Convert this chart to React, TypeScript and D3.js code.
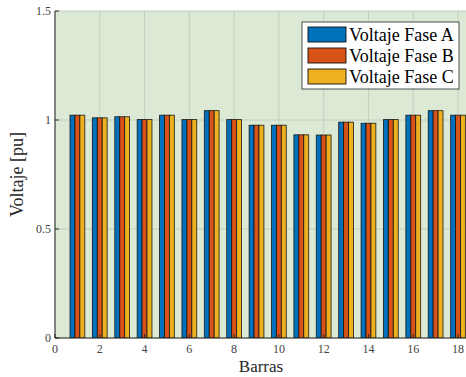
import React from "react";
import * as d3 from "d3";

const barras = [1, 2, 3, 4, 5, 6, 7, 8, 9, 10, 11, 12, 13, 14, 15, 16, 17, 18];
const faseA = [1.022, 1.01, 1.015, 1.002, 1.022, 1.002, 1.043, 1.002, 0.976, 0.976, 0.932, 0.931, 0.99, 0.985, 1.002, 1.022, 1.043, 1.022];
const faseB = [1.022, 1.01, 1.015, 1.002, 1.022, 1.002, 1.043, 1.002, 0.976, 0.976, 0.932, 0.931, 0.99, 0.985, 1.002, 1.022, 1.043, 1.022];
const faseC = [1.022, 1.01, 1.015, 1.002, 1.022, 1.002, 1.043, 1.002, 0.976, 0.976, 0.932, 0.931, 0.99, 0.985, 1.002, 1.022, 1.043, 1.022];
const seriesNames = ["Voltaje Fase A", "Voltaje Fase B", "Voltaje Fase C"];
const seriesColors = ["#0072BD", "#D95319", "#EDB120"];
const xTicks = [0, 2, 4, 6, 8, 10, 12, 14, 16, 18];
const yTicks = [0, 0.5, 1, 1.5];

const W = 466;
const H = 377;
const left = 55;
const top = 11;
const bottom = 338;
const xMax = 18.6;
const pxPerUnit = 22.39;
const right = left + xMax * pxPerUnit;

const font = "Liberation Serif";

export default function App() {
  const x = d3.scaleLinear().domain([0, xMax]).range([left, right]);
  const y = d3.scaleLinear().domain([0, 1.5]).range([bottom, top]);
  const series = [faseA, faseB, faseC];
  const barW = 0.22;

  return (
    <svg width={W} height={H} style={{ position: "absolute", left: 0, top: 0, background: "#fff", fontFamily: font }}>
      <defs>
        <clipPath id="clip">
          <rect x={left} y={top} width={right - left} height={bottom - top} />
        </clipPath>
      </defs>
      <rect x={left} y={top} width={right - left} height={bottom - top} fill="#dbe9d5" />
      <g>
        {xTicks.map((t) => (
          <line key={"gx" + t} x1={x(t)} x2={x(t)} y1={top} y2={bottom} stroke="#c3d0bd" strokeWidth={1} />
        ))}
        {yTicks.map((t) => (
          <line key={"gy" + t} x1={left} x2={right} y1={y(t)} y2={y(t)} stroke="#c3d0bd" strokeWidth={1} />
        ))}
      </g>
      <g clipPath="url(#clip)">
        {barras.map((b, i) =>
          series.map((s, j) => {
            const x0 = x(b + (j - 1.5) * barW);
            const x1 = x(b + (j - 0.5) * barW);
            return (
              <rect
                key={`b${i}-${j}`}
                x={x0}
                y={y(s[i])}
                width={x1 - x0}
                height={y(0) - y(s[i])}
                fill={seriesColors[j]}
                stroke="#111"
                strokeWidth={0.9}
                strokeOpacity={0.85}
              />
            );
          })
        )}
      </g>
      <line x1={left} x2={left} y1={top} y2={bottom} stroke="#262626" strokeWidth={1} />
      <line x1={left} x2={right} y1={bottom} y2={bottom} stroke="#262626" strokeWidth={1} />
      {yTicks.map((t) => (
        <g key={"yt" + t}>
          <line x1={left} x2={left + 4} y1={y(t)} y2={y(t)} stroke="#262626" />
          <text x={left - 4} y={y(t)} dy="0.32em" textAnchor="end" fontSize={12} fill="#444" style={{ fontFamily: font }}>
            {String(t)}
          </text>
        </g>
      ))}
      {xTicks.map((t) => (
        <g key={"xt" + t}>
          <line x1={x(t)} x2={x(t)} y1={bottom} y2={bottom - 4} stroke="#262626" />
          <text x={x(t)} y={bottom + 15} textAnchor="middle" fontSize={12} fill="#444" style={{ fontFamily: font }}>
            {String(t)}
          </text>
        </g>
      ))}
      <text x={261} y={372} textAnchor="middle" fontSize={17} fill="#262626" style={{ fontFamily: font }}>
        Barras
      </text>
      <text
        transform={`translate(23, ${(top + bottom) / 2}) rotate(-90)`}
        textAnchor="middle"
        fontSize={18}
        fill="#262626"
        style={{ fontFamily: font }}
      >
        Voltaje [pu]
      </text>
      <g>
        <rect x={302} y={22} width={157} height={67} fill="#fff" stroke="#262626" strokeWidth={0.8} />
        {seriesNames.map((n, j) => (
          <g key={n}>
            <rect x={308} y={27 + j * 21} width={38} height={15} fill={seriesColors[j]} stroke="#111" strokeWidth={0.9} />
            <text x={349} y={35 + j * 21} dy="0.35em" fontSize={18} fill="#000" style={{ fontFamily: font }}>
              {n}
            </text>
          </g>
        ))}
      </g>
    </svg>
  );
}
